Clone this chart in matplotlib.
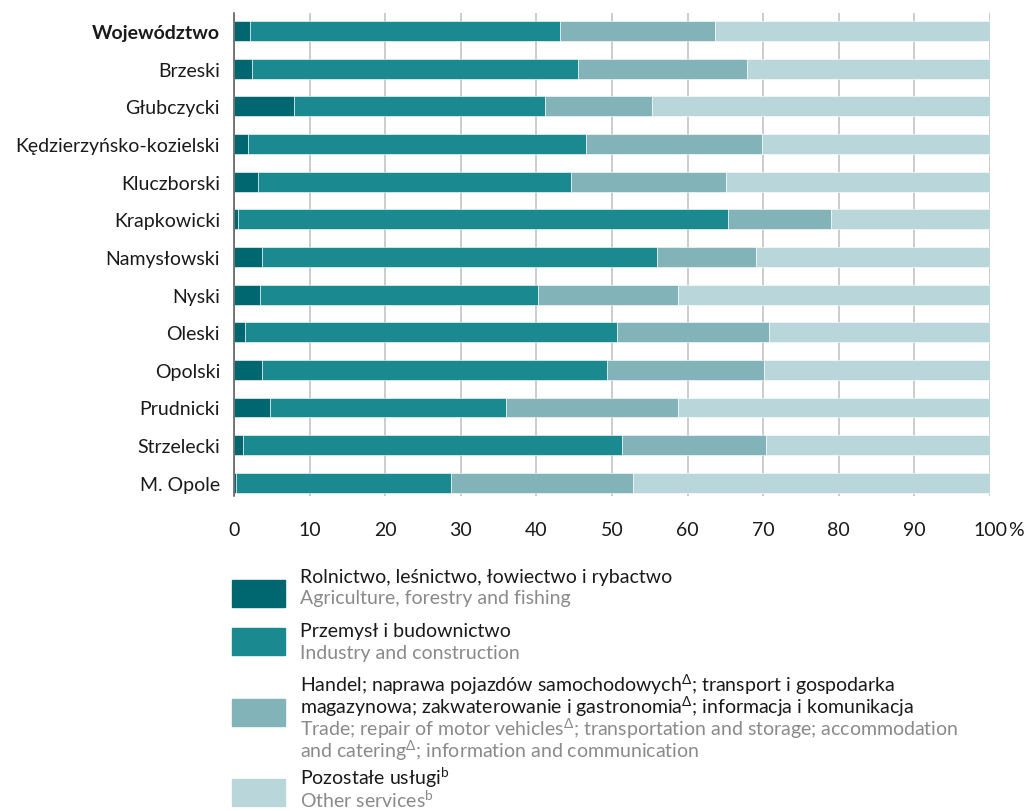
import matplotlib

matplotlib.use("Agg")
import matplotlib.pyplot as plt
from matplotlib.patches import Rectangle
from matplotlib.transforms import blended_transform_factory

plt.rcParams["font.family"] = ["Lato", "DejaVu Sans"]
plt.rcParams["mathtext.fontset"] = "custom"
plt.rcParams["mathtext.rm"] = "Lato"
plt.rcParams["mathtext.it"] = "Lato"
plt.rcParams["mathtext.fallback"] = "stixsans"

regions = [
    "Województwo", "Brzeski", "Głubczycki", "Kędzierzyńsko-kozielski",
    "Kluczborski", "Krapkowicki", "Namysłowski", "Nyski", "Oleski",
    "Opolski", "Prudnicki", "Strzelecki", "M. Opole",
]
agriculture = [2.1, 2.4, 7.9, 1.8, 3.2, 0.5, 3.7, 3.4, 1.5, 3.7, 4.7, 1.2, 0.2]
industry = [41.0, 43.1, 33.2, 44.8, 41.4, 64.8, 52.3, 36.8, 49.2, 45.6, 31.3, 50.1, 28.5]
trade = [20.5, 22.4, 14.2, 23.3, 20.5, 13.7, 13.0, 18.5, 20.1, 20.8, 22.7, 19.1, 24.1]
other = [100 - a - b - c for a, b, c in zip(agriculture, industry, trade)]

series = [agriculture, industry, trade, other]
colors = ["#006770", "#1b8990", "#82b3b9", "#b9d7da"]
x_ticks = [0, 10, 20, 30, 40, 50, 60, 70, 80, 90, 100]

legend_items = [
    (["Rolnictwo, leśnictwo, łowiectwo i rybactwo"],
     ["Agriculture, forestry and fishing"]),
    (["Przemysł i budownictwo"],
     ["Industry and construction"]),
    (["Handel; naprawa pojazdów samochodowych$^{\\Delta}$; transport i gospodarka",
      "magazynowa; zakwaterowanie i gastronomia$^{\\Delta}$; informacja i komunikacja"],
     ["Trade; repair of motor vehicles$^{\\Delta}$; transportation and storage; accommodation",
      "and catering$^{\\Delta}$; information and communication"]),
    (["Pozostałe usługi$^{b}$"],
     ["Other services$^{b}$"]),
]

FS = 14

fig = plt.figure(figsize=(10.25, 8.12), dpi=100)
ax = fig.add_axes([0.2283, 0.388, 0.7376, 0.5948])

y = list(range(len(regions)))
left = [0.0] * len(regions)
for values, color in zip(series, colors):
    ax.barh(y, values, left=left, height=0.53, color=color,
            edgecolor="white", linewidth=0.4, zorder=2)
    left = [l + v for l, v in zip(left, values)]

ax.set_xlim(0, 100)
ax.set_ylim(12.35, -0.48)
ax.set_xticks(x_ticks)
ax.set_xticklabels([str(t) for t in x_ticks])
ax.set_yticks(y)
ax.set_yticklabels(regions)
ax.get_yticklabels()[0].set_fontweight("bold")
ax.tick_params(axis="both", length=0, labelsize=FS, colors="#1a1a1a")
ax.tick_params(axis="y", pad=10)
ax.tick_params(axis="x", pad=18)
ax.grid(axis="x", color="#c4c4c4", linewidth=1.2, zorder=0)
ax.set_axisbelow(True)
for side in ["top", "right", "bottom"]:
    ax.spines[side].set_visible(False)
ax.spines["left"].set_color("#555555")
ax.spines["left"].set_linewidth(1.1)
ax.spines["left"].set_zorder(3)

trans = blended_transform_factory(ax.transData, ax.transAxes)
ax.annotate("%", xy=(100, 0), xycoords=trans, xytext=(13, -18),
            textcoords="offset points", ha="left", va="top",
            fontsize=FS, color="#1a1a1a")

# legend drawn by hand
W, H = 1025, 812
patch_centers = [594, 642, 713, 793]
first_line = [577, 632, 685, 778]
line_step = 22
for (pl, en), pc, fl, color in zip(legend_items, patch_centers, first_line, colors):
    fig.patches.append(Rectangle((232 / W, 1 - (pc + 13.5) / H), 53 / W, 27 / H,
                                 transform=fig.transFigure, color=color))
    row = fl
    for line in pl:
        fig.text(300 / W, 1 - row / H, line, fontsize=FS, color="#1a1a1a", va="center")
        row += line_step
    for line in en:
        fig.text(300 / W, 1 - row / H, line, fontsize=FS, color="#8a8a8a", va="center")
        row += line_step

fig.savefig("out.png", dpi=100)
